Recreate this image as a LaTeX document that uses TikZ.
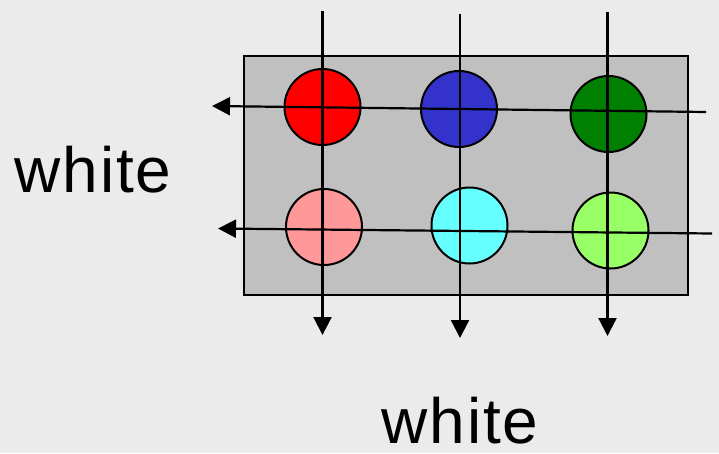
\documentclass[tikz,border=0pt]{standalone}
\usepackage{fontspec}
\setmainfont{Liberation Sans}[LetterSpace=3]
\usetikzlibrary{arrows.meta}
\definecolor{bg}{HTML}{EBEBEB}
\definecolor{panel}{HTML}{C0C0C0}
\definecolor{cred}{HTML}{FF0000}
\definecolor{cblue}{HTML}{3333CC}
\definecolor{cgreen}{HTML}{008000}
\definecolor{cpink}{HTML}{FF9999}
\definecolor{ccyan}{HTML}{66FFFF}
\definecolor{clgreen}{HTML}{99FF66}
\begin{document}
\begin{tikzpicture}[x=1pt,y=-1pt,
  dot/.style={circle,draw=black,line width=2pt,minimum size=76pt,inner sep=0pt},
  flow/.style={line width=2.2pt,-{Triangle[width=18pt,length=18pt]}},
  label/.style={font=\fontsize{64}{70}\selectfont,inner sep=0pt,anchor=base}]
\fill[bg] (0,0) rectangle (719,453);
\useasboundingbox (0,0) rectangle (719,453);
\node[draw=black,line width=2pt,fill=panel,minimum width=444pt,minimum height=239pt,inner sep=0pt,anchor=north west] (panel) at (243,55) {};
\node[dot,fill=cred] (r) at (322.5,107) {};
\node[dot,fill=cblue] (b) at (459,109) {};
\node[dot,fill=cgreen] (g) at (608.5,114) {};
\node[dot,fill=cpink] (p) at (324,227) {};
\node[dot,fill=ccyan] (c) at (469.5,225.5) {};
\node[dot,fill=clgreen] (l) at (610.5,230.5) {};
\coordinate (v1s) at (322.5,11);
\coordinate (v1e) at (322.5,335);
\coordinate (v2s) at (460,14);
\coordinate (v2e) at (460,338);
\coordinate (v3s) at (607.5,12);
\coordinate (v3e) at (607.5,336);
\coordinate (h1s) at (706,112);
\coordinate (h1e) at (212,106);
\coordinate (h2s) at (712,233.5);
\coordinate (h2e) at (218,228.5);
\draw[flow] (v1s) -- (v1e);
\draw[flow] (v2s) -- (v2e);
\draw[flow] (v3s) -- (v3e);
\draw[flow] (h1s) -- (h1e);
\draw[flow] (h2s) -- (h2e);
\node[label] (wl) at (93,192) {white};
\node[label] (wb) at (460,443) {white};
\end{tikzpicture}
\end{document}
